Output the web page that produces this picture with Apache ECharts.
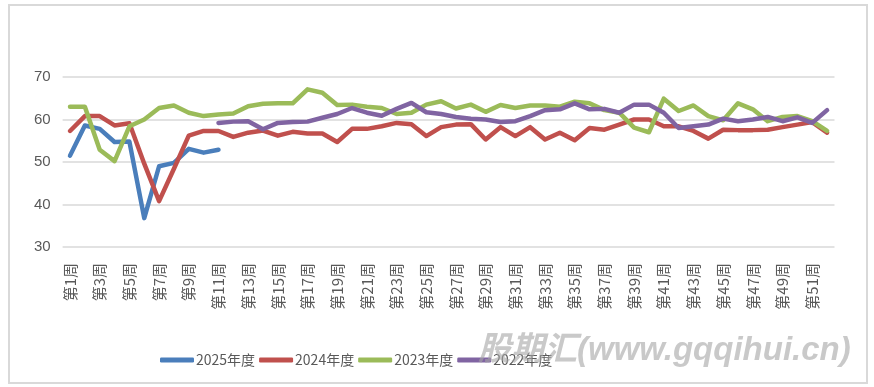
<!DOCTYPE html>
<html><head><meta charset="utf-8">
<script src="https://cdn.jsdelivr.net/npm/echarts@6/dist/echarts.min.js"></script>
<style>html,body{margin:0;padding:0;background:#fff}#c{width:874px;height:387px}</style>
</head><body><div id="c"></div>
<script>
const weeks = [];
for (let i = 1; i <= 52; i++) weeks.push('第' + i + '周');
const s2025 = [51.5,58.6,57.8,54.7,54.8,36.8,49.0,49.8,53.1,52.2,52.9];
const s2024 = [57.3,60.8,60.8,58.6,59.1,49.6,40.8,48.4,56.2,57.3,57.3,55.9,56.9,57.4,56.2,57.1,56.7,56.7,54.7,57.8,57.8,58.4,59.2,58.9,56.1,58.2,58.8,58.9,55.3,58.2,56.1,58.2,55.3,56.9,55.1,58.0,57.6,58.8,60.0,60.0,58.4,58.4,57.3,55.5,57.6,57.5,57.5,57.6,58.2,58.8,59.4,56.9];
const s2023 = [63.0,63.0,52.9,50.2,58.4,60.0,62.7,63.3,61.6,60.8,61.2,61.4,63.1,63.7,63.8,63.8,67.1,66.3,63.4,63.5,63.0,62.7,61.3,61.6,63.5,64.3,62.6,63.5,61.8,63.4,62.7,63.3,63.3,63.0,64.2,63.8,62.2,61.6,58.1,57.0,64.9,62.0,63.3,60.8,59.8,63.8,62.4,59.6,60.6,60.8,59.6,57.3];
const s2022 = [null,null,null,null,null,null,null,null,null,null,59.2,59.5,59.6,57.7,59.2,59.4,59.5,60.4,61.3,62.7,61.6,60.9,62.5,63.9,61.7,61.3,60.6,60.2,60.0,59.4,59.6,60.8,62.2,62.4,63.8,62.4,62.5,61.6,63.5,63.5,61.6,58.0,58.4,58.8,60.2,59.6,60.0,60.6,59.6,60.5,59.2,62.2];
const seriesNames = ['2025年度','2024年度','2023年度','2022年度'];
const colors = ['#4a7ebb','#c0504d','#9bbb59','#8064a2'];
const yTicks = [30,40,50,60,70];

const chart = echarts.init(document.getElementById('c'));
const data = [s2025, s2024, s2023, s2022];
chart.setOption({
  animation: false,
  color: colors,
  grid: {left: 62.6, right: 39.5, top: 77, bottom: 140},
  legend: {
    bottom: 15, left: 155,
    data: seriesNames,
    itemWidth: 34, itemHeight: 5, itemGap: 4,
    icon: 'roundRect',
    textStyle: {color: '#595959', fontSize: 14, fontFamily: 'Noto Sans CJK SC', padding: [0,0,0,-3]}
  },
  xAxis: {
    type: 'category', data: weeks, boundaryGap: true,
    axisLine: {show: false}, axisTick: {show: false},
    axisLabel: {interval: 1, rotate: 90, color: '#595959', fontSize: 15, fontFamily: 'Noto Sans CJK SC', margin: 16}
  },
  yAxis: {
    type: 'value', min: yTicks[0], max: yTicks[yTicks.length-1], interval: 10,
    axisLine: {show: false}, axisTick: {show: false},
    axisLabel: {color: '#595959', fontSize: 15, fontFamily: 'Liberation Sans', margin: 12},
    splitLine: {lineStyle: {color: '#d9d9d9', width: 1.5}}
  },
  series: data.map((d, i) => ({
    name: seriesNames[i], type: 'line', data: d, showSymbol: false, symbol: 'none',
    lineStyle: {width: 4.5, color: colors[i], cap: 'round', join: 'round'},
    z: 2 + i
  })),
  graphic: [
    {type: 'rect', shape: {x: 9, y: 5, width: 858, height: 378}, style: {fill: 'none', stroke: '#d9d9d9', lineWidth: 2}, silent: true},
    {type: 'text', left: 478, top: 334, z: 100, style: {text: '股期汇(www.gqqihui.cn)', font: 'italic bold 33px "Liberation Sans", "Noto Sans CJK SC"', fill: 'rgba(165,165,165,0.6)'}}
  ]
});
</script></body></html>
